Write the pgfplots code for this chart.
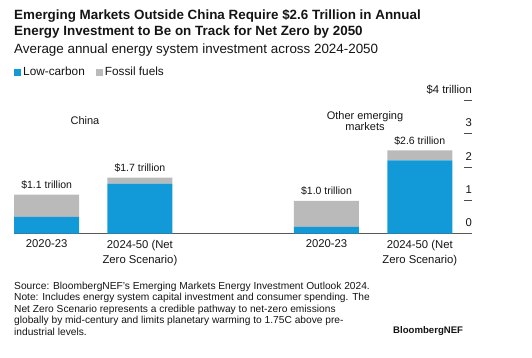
\documentclass[border=0pt]{standalone}
\usepackage{fontspec}
\setmainfont{Liberation Sans}
\usepackage{pgfplots}
\pgfplotsset{compat=1.18}
\definecolor{lowc}{RGB}{17,153,216}
\definecolor{foss}{RGB}{186,186,186}
\definecolor{txt}{RGB}{20,20,20}
\begin{document}
\begin{tikzpicture}
\path[use as bounding box] (0pt,0pt) rectangle (532pt,-358pt);
% titles (base anchor = baseline of last line)
\node[anchor=base west, inner sep=0pt, align=left, font=\fontsize{13.4}{16.7}\selectfont\bfseries, text=txt] at (14pt,-36pt)
  {Emerging Markets Outside China Require \$2.6 Trillion in Annual\\Energy Investment to Be on Track for Net Zero by 2050};
\node[anchor=base west, inner sep=0pt, font=\fontsize{13.4}{15}\selectfont, text=txt] at (14pt,-53.3pt)
  {Average annual energy system investment across 2024-2050};
\begin{axis}[
  at={(14pt,-233.5pt)}, anchor=south west,
  scale only axis, width=458pt, height=133pt,
  xmin=-0.35, xmax=4.56, ymin=0, ymax=4,
  ybar stacked, bar width=65pt,
  clip=false,
  axis x line*=bottom, axis y line*=right,
  x axis line style={-, draw=black!65, line width=0.8pt},
  y axis line style={draw=none},
  xtick={0,1,3,4},
  xticklabels={2020-23,{2024-50 (Net\\Zero Scenario)},2020-23,{2024-50 (Net\\Zero Scenario)}},
  xticklabel style={align=center, font=\fontsize{11.3}{15}\selectfont, text=txt, yshift=-3pt},
  major x tick style={draw=none},
  ytick={0,1,2,3,4},
  yticklabels={0,1,2,3,\$4 trillion},
  tick align=inside,
  major tick length=8pt,
  major y tick style={draw=black!70, line width=0.7pt},
  yticklabel style={anchor=south east, inner sep=0pt, xshift=0pt, yshift=6.5pt, font=\fontsize{11.3}{13}\selectfont, text=txt},
  legend style={at={(axis description cs:0,1.214)}, anchor=west, draw=none, fill=none,
    legend columns=-1, font=\fontsize{11.8}{13}\selectfont, text=txt, inner sep=0pt,
    /tikz/every even column/.append style={column sep=9pt}},
  legend image code/.code={\fill[#1] (0pt,-3.5pt) rectangle (7pt,3.5pt);},
  legend cell align=left,
]
\addplot[fill=lowc, draw=none] coordinates {(0,0.50) (1,1.50) (3,0.20) (4,2.20)};
\addplot[fill=foss, draw=none] coordinates {(0,0.67) (1,0.18) (3,0.78) (4,0.30)};
\legend{Low-carbon,Fossil fuels}
\node[anchor=base, inner sep=0pt, yshift=6.2pt, font=\fontsize{10.5}{12}\selectfont, text=txt] at (axis cs:0,1.17) {\$1.1 trillion};
\node[anchor=base, inner sep=0pt, yshift=6.2pt, font=\fontsize{10.5}{12}\selectfont, text=txt] at (axis cs:1,1.68) {\$1.7 trillion};
\node[anchor=base, inner sep=0pt, yshift=6.2pt, font=\fontsize{10.5}{12}\selectfont, text=txt] at (axis cs:3,0.98) {\$1.0 trillion};
\node[anchor=base, inner sep=0pt, yshift=6.2pt, font=\fontsize{10.5}{12}\selectfont, text=txt] at (axis cs:4,2.50) {\$2.6 trillion};
\end{axis}
% group labels
\node[anchor=center, inner sep=0pt, font=\fontsize{11}{12}\selectfont, text=txt] at (85pt,-120.7pt) {China};
\node[anchor=center, inner sep=0pt, align=center, font=\fontsize{11}{11.7}\selectfont, text=txt] at (365pt,-121pt) {Other emerging\\markets};
% footer (base anchor = baseline of last line)
\node[anchor=base west, inner sep=0pt, align=left, font=\fontsize{10.2}{11.65}\selectfont, text=txt] at (14pt,-335.6pt)
  {Source: BloombergNEF's Emerging Markets Energy Investment Outlook 2024.\\
   Note: Includes energy system capital investment and consumer spending. The\\
   Net Zero Scenario represents a credible pathway to net-zero emissions\\
   globally by mid-century and limits planetary warming to 1.75C above pre-\\
   industrial levels.};
\node[anchor=base west, inner sep=0pt, font=\fontsize{9.6}{11}\selectfont\bfseries, text=txt] at (393pt,-333.5pt) {BloombergNEF};
\end{tikzpicture}
\end{document}
